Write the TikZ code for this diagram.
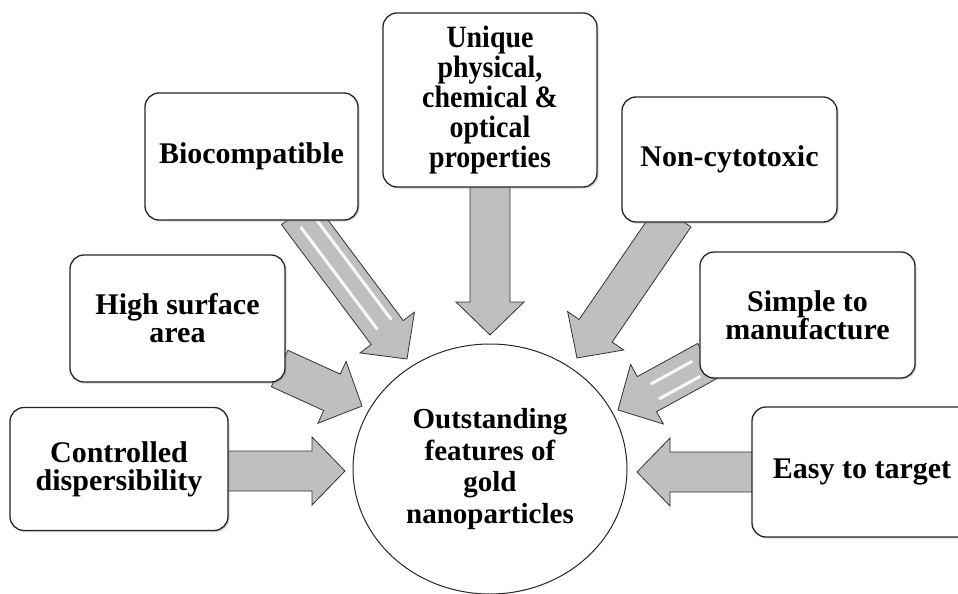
\documentclass[tikz,border=0pt]{standalone}
\usepackage{fontspec}
\setmainfont{Liberation Serif}
\newfontfamily\tallfont[FakeStretch=0.9]{Liberation Serif}
\usetikzlibrary{calc,shapes.geometric,shadows,backgrounds}

\tikzset{
  featbox/.style={draw=black!85, line width=1.3pt, rounded corners=14pt, fill=white,
    align=center, inner sep=2pt, font=\fontsize{30}{28}\selectfont\bfseries,
    drop shadow={opacity=0.35, shadow xshift=1.5pt, shadow yshift=-1.5pt}},
  fatarrow/.style={draw=black!80, line width=0.8pt, fill=gray!50, line join=miter},
  shine/.style={white, line width=3pt, line cap=round, opacity=0.9}
}

% block arrow: #1 = start, #2 = tip
\newcommand{\blockarrow}[2]{%
  \coordinate (ah) at ($(#2)!33pt!(#1)$);
  \draw[fatarrow] ($(#1)!20pt!90:(#2)$) -- ($(ah)!20pt!90:(#2)$) -- ($(ah)!34pt!90:(#2)$)
    -- (#2) -- ($(ah)!34pt!-90:(#2)$) -- ($(ah)!20pt!-90:(#2)$) -- ($(#1)!20pt!-90:(#2)$) -- cycle;
}
% white stripe along a block arrow: #1 = start, #2 = tip, #3 = offset
\newcommand{\shinestripe}[3]{%
  \coordinate (sa) at ($(#1)!14pt!(#2)$);
  \coordinate (sb) at ($(#2)!42pt!(#1)$);
  \draw[shine] ($(sa)!#3!90:(#2)$) -- ($(sb)!#3!90:(#2)$);
}

\begin{document}
\begin{tikzpicture}[x=1pt, y=-1pt]
\useasboundingbox (0,0) rectangle (958,594);

% feature boxes
\node[featbox, minimum width=213pt, minimum height=127pt] (bio) at (251.5,156.5) {Biocompatible};
\node[featbox, minimum width=214pt, minimum height=174pt, font=\fontsize{31}{30}\selectfont\tallfont\bfseries] (uniq) at (490,100) {Unique\\physical,\\chemical \&\\optical\\properties};
\node[featbox, minimum width=215pt, minimum height=125pt] (nonc) at (729.5,159.5) {Non-cytotoxic};
\node[featbox, minimum width=215pt, minimum height=127pt] (high) at (177.5,318.5) {High surface\\area};
\node[featbox, minimum width=215pt, minimum height=126pt] (simp) at (807.5,315) {Simple to\\manufacture};
\node[featbox, minimum width=218pt, minimum height=123pt] (ctrl) at (119,469) {Controlled\\dispersibility};
\node[featbox, minimum width=220pt, minimum height=130pt] (easy) at (862,472) {Easy to target};

% centre
\node[ellipse, draw=black!85, line width=1pt, fill=white, minimum width=274pt, minimum height=250pt,
  align=center, inner sep=0pt, font=\fontsize{29}{31.5}\selectfont\bfseries] (circ) at (490,469)
  {Outstanding\\features of\\gold\\nanoparticles};

% arrow ends
\coordinate (sbio) at ($(bio.south)+(46,-8)$);
\coordinate (tbio) at ($(circ.center)+(-83,-110)$);
\coordinate (suniq) at ($(uniq.south)+(0,-8)$);
\coordinate (tuniq) at ($(circ.center)+(0,-134)$);
\coordinate (snonc) at ($(nonc.south)+(-55,-7)$);
\coordinate (tnonc) at ($(circ.center)+(87,-111)$);
\coordinate (shigh) at ($(high.east)+(-6,50)$);
\coordinate (thigh) at ($(circ.center)+(-128,-63)$);
\coordinate (ssimp) at ($(simp.west)+(8,46)$);
\coordinate (tsimp) at ($(circ.center)+(128,-59)$);
\coordinate (sctrl) at ($(ctrl.east)+(-6,2)$);
\coordinate (tctrl) at ($(circ.center)+(-145,2)$);
\coordinate (seasy) at ($(easy.west)+(6,0)$);
\coordinate (teasy) at ($(circ.center)+(147,3)$);

\begin{pgfonlayer}{background}
  \blockarrow{sbio}{tbio}
  \shinestripe{sbio}{tbio}{11pt}
  \shinestripe{sbio}{tbio}{-6pt}
  \blockarrow{suniq}{tuniq}
  \blockarrow{snonc}{tnonc}
  \blockarrow{shigh}{thigh}
  \blockarrow{ssimp}{tsimp}
  \shinestripe{ssimp}{tsimp}{10pt}
  \shinestripe{ssimp}{tsimp}{-7pt}
  \blockarrow{sctrl}{tctrl}
  \blockarrow{seasy}{teasy}
\end{pgfonlayer}
\end{tikzpicture}
\end{document}
